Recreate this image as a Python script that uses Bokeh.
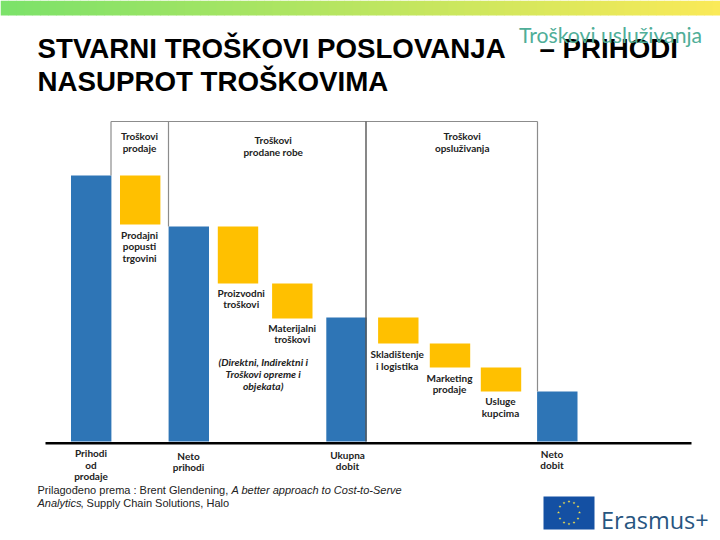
from bokeh.plotting import figure
from bokeh.models import Range1d
from bokeh.core.properties import value
from bokeh.embed import file_html
from bokeh.resources import INLINE

# ---- data (value units: height above baseline) ----
categories = ["Prihodi od prodaje", "Prodajni popusti trgovini", "Neto prihodi",
              "Proizvodni troškovi", "Materijalni troškovi", "Ukupna dobit",
              "Skladištenje i logistika", "Marketing prodaje", "Usluge kupcima", "Neto dobit"]
amounts = [266, -49, 215, -57, -35, 124, -26, -24, -24, 50]
is_total = [True, False, True, False, False, True, False, False, False, True]
centers = [90.7, 139.7, 188.3, 237.5, 291.8, 346, 397.8, 449.5, 500.5, 556.8]
bar_w = 40.4

labels_below = [
    (["Prihodi", "od", "prodaje"], 90.5, 452.7),
    (["Neto", "prihodi"], 188, 455),
    (["Ukupna", "dobit"], 347, 454),
    (["Neto", "dobit"], 551.5, 453),
    (["Prodajni", "popusti", "trgovini"], 139, 234),
    (["Proizvodni", "troškovi"], 240.7, 292),
    (["Materijalni", "troškovi"], 291.7, 327),
    (["Skladištenje", "i logistika"], 396.7, 353.5),
    (["Marketing", "prodaje"], 449, 377),
    (["Usluge", "kupcima"], 500, 400.5),
    (["Troškovi", "prodaje"], 139, 135.7),
    (["Troškovi", "prodane robe"], 272.7, 139.7),
    (["Troškovi", "opsluživanja"], 461.7, 135.7),
]
note_lines = ["(Direktni, Indirektni i", "Troškovi opreme i", "objekata)"]
title_lines = [("STVARNI TROŠKOVI POSLOVANJA", 37, 47.6), ("– PRIHODI", 539, 47.6), ("NASUPROT TROŠKOVIMA", 37, 81.4)]

BASE = 441
def Y(py):
    return BASE - py

p = figure(width=720, height=540, output_backend="svg", toolbar_location=None,
           x_range=Range1d(0, 720), y_range=Range1d(Y(540), Y(0)),
           min_border=0, outline_line_color=None, background_fill_color="white")
p.axis.visible = False
p.grid.visible = False

# top gradient band
g0, g1 = (124, 226, 106), (250, 234, 88)
n = 90
for i in range(n):
    t = i / (n - 1)
    c = "#%02x%02x%02x" % tuple(int(a + (b - a) * t) for a, b in zip(g0, g1))
    x0 = 720 * i / n
    p.quad(left=x0, right=x0 + 720 / n + 0.5, top=Y(0), bottom=Y(15), fill_color=c, line_color=None)

# waterfall
lefts, rights, tops, bottoms, colors = [], [], [], [], []
level = 0
for c, a, tot in zip(centers, amounts, is_total):
    if tot:
        level, top, bot = a, a, 0
        col = "#2e75b6"
    else:
        top, bot = level, level + a
        level = bot
        col = "#ffc000"
    lefts.append(c - bar_w / 2); rights.append(c + bar_w / 2)
    tops.append(top); bottoms.append(bot); colors.append(col)
p.quad(left=lefts, right=rights, top=tops, bottom=bottoms, fill_color=colors, line_color=None)

# section frame
top_line = Y(121)
p.line([110.5, 537], [top_line, top_line], line_color="#8c8c8c", line_width=1.2)
p.segment(x0=[110.5, 168, 537], y0=[top_line] * 3, x1=[110.5, 168, 537],
          y1=[tops[0], tops[2], tops[9]], line_color="#8c8c8c", line_width=1.2)
p.segment(x0=[365.5], y0=[top_line], x1=[365.5], y1=[0], line_color="#555555", line_width=1.4)

# baseline
p.line([45, 691], [Y(442.8), Y(442.8)], line_color="#000000", line_width=2.6)

# labels
LH = 11.6
xs, ys, ts = [], [], []
for lines, cx, py in labels_below:
    for k, s in enumerate(lines):
        xs.append(cx); ys.append(Y(py + k * LH)); ts.append(s)
p.text(xs, ys, ts, text_font=value("Lato"), text_font_style="bold", text_font_size="10px",
       text_color="#222222", text_align="center", text_baseline="middle")
p.text([262.7] * 3, [Y(361 + k * 12.3) for k in range(3)], note_lines, text_font=value("Lato"),
       text_font_style="bold italic", text_font_size="10.3px", text_color="#222222",
       text_align="center", text_baseline="middle")

# title
for s, x, py in title_lines:
    p.text([x], [Y(py)], [s], text_font=value("Liberation Sans"), text_font_style="bold",
           text_font_size="27.7px", text_color="#000000", text_align="left", text_baseline="middle")

# teal overlay heading
p.text([518.5], [Y(34)], ["Troškovi usluživanja"], text_font=value("Lato"), text_font_size="21.2px",
       text_color="#4fae98", text_align="left", text_baseline="middle")

# footnote
foot = [("Prilagođeno prema : Brent Glendening,", "normal", 37, 489),
        ("A better approach to Cost-to-Serve", "italic", 231, 489),
        ("Analytics", "italic", 37, 502),
        (", Supply Chain Solutions, Halo", "normal", 80, 502)]
for s, st, x, py in foot:
    p.text([x], [Y(py)], [s], text_font=value("Liberation Sans"), text_font_style=st,
           text_font_size="11px", text_color="#222222", text_align="left", text_baseline="middle")

# EU flag and Erasmus+
p.quad(left=[543], right=[594], top=[Y(496)], bottom=[Y(529)], fill_color="#1450a3", line_color=None)
ring_x = [568.5, 573.5, 577.5, 579, 577.5, 573.5, 568.5, 563.5, 559.5, 558, 559.5, 563.5]
ring_y = [501, 502.5, 506, 512, 518, 522, 523.5, 522, 518, 512, 506, 502.5]
p.scatter(ring_x, [Y(v) for v in ring_y], size=3, marker="star", fill_color="#f4e04d", line_color=None)
p.text([600.5], [Y(519.5)], ["Erasmus+"], text_font=value("Open Sans"), text_font_size="23.5px",
       text_color="#27557f", text_align="left", text_baseline="middle")

open("out.html", "w").write(file_html(p, INLINE))
